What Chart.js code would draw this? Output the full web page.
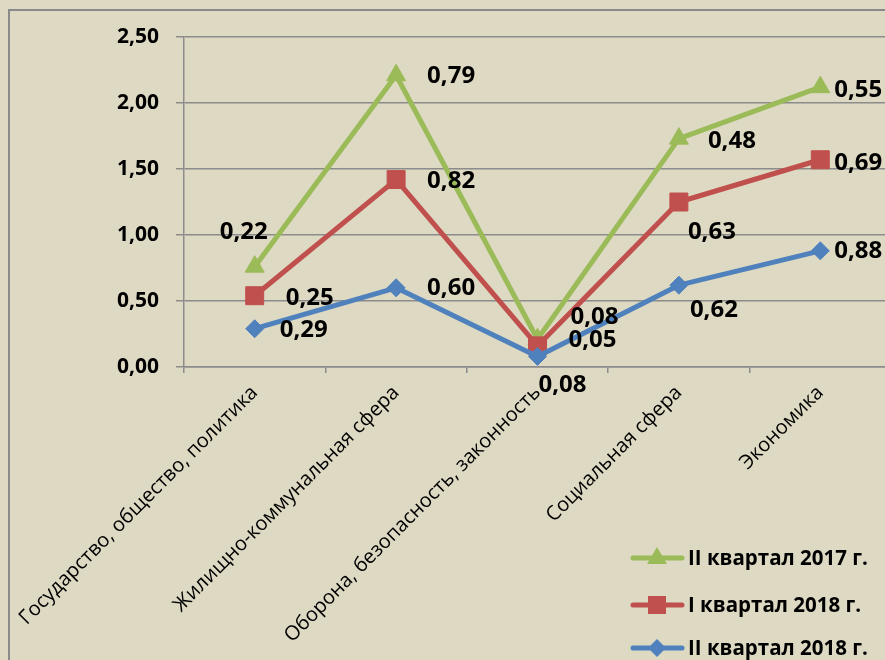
<!DOCTYPE html>
<html>
<head>
<meta charset="utf-8">
<script src="https://cdn.jsdelivr.net/npm/chart.js@4"></script>
<style>
  html, body { margin: 0; padding: 0; background: #DDD9C3; overflow: hidden; }
  #wrap { position: relative; width: 915px; height: 660px; }
  #frame { position: absolute; left: 8px; top: 9px; width: 1000px; height: 1000px; border: 2px solid #8a8a8a; box-sizing: border-box; }
  canvas { position: absolute; left: 0; top: 0; }
</style>
</head>
<body>
<div id="wrap">
  <div id="frame"></div>
  <canvas id="chart" width="915" height="660"></canvas>
</div>
<script>
// categories and values (stacked line chart, labels show each series' own value)
const categories = [
  "Государство, общество, политика",
  "Жилищно-коммунальная сфера",
  "Оборона, безопасность, законность",
  "Социальная сфера",
  "Экономика"
];
const q2_2018 = [0.29, 0.60, 0.08, 0.62, 0.88];
const q1_2018 = [0.25, 0.82, 0.08, 0.63, 0.69];
const q2_2017 = [0.22, 0.79, 0.05, 0.48, 0.55];

const seriesNames = ["II квартал 2018 г.", "I квартал 2018 г.", "II квартал 2017 г."];

// where each value label sits relative to its point (hand placed, like in the original)
const blueLabelPos = [[49, 1], [55, 0], [25, 29], [35, 25], [38, 0]];
const redLabelPos = [[55, 2], [55, 2], [57, -29], [33, 30], [38, 3]];
const greenLabelPos = [[-11, -35], [55, 1], [55, 1], [53, 3], [38, 3]];

const fmt = v => v.toFixed(2).replace('.', ',');

function marker(ctx, style, x, y, color) {
  ctx.save();
  ctx.fillStyle = color;
  ctx.beginPath();
  if (style === 'triangle') {
    ctx.moveTo(x, y - 11);
    ctx.lineTo(x + 10, y + 6);
    ctx.lineTo(x - 10, y + 6);
  } else if (style === 'rect') {
    ctx.rect(x - 9, y - 9, 18, 18);
  } else {
    ctx.moveTo(x, y - 9);
    ctx.lineTo(x + 9, y);
    ctx.lineTo(x, y + 9);
    ctx.lineTo(x - 9, y);
  }
  ctx.closePath();
  ctx.fill();
  ctx.restore();
}

const valueLabels = {
  id: 'valueLabels',
  afterDatasetsDraw(chart) {
    const ctx = chart.ctx;
    ctx.save();
    ctx.font = "bold 24px 'Open Sans'";
    ctx.fillStyle = '#000';
    ctx.textAlign = 'center';
    ctx.textBaseline = 'middle';
    chart.data.datasets.forEach((ds, i) => {
      chart.getDatasetMeta(i).data.forEach((pt, j) => {
        const off = ds.labelPos[j];
        ctx.fillText(fmt(ds.data[j]), pt.x + off[0], pt.y + off[1]);
      });
    });
    ctx.restore();
  }
};

const sideLegend = {
  id: 'sideLegend',
  afterDraw(chart) {
    const ctx = chart.ctx;
    const rows = [2, 1, 0];
    const ys = [558, 605, 648];
    ctx.save();
    ctx.font = "bold 20.5px 'Open Sans'";
    ctx.textBaseline = 'middle';
    ctx.textAlign = 'left';
    rows.forEach((di, k) => {
      const ds = chart.data.datasets[di];
      const y = ys[k];
      ctx.strokeStyle = ds.borderColor;
      ctx.lineWidth = 5;
      ctx.lineCap = 'round';
      ctx.beginPath();
      ctx.moveTo(633, y);
      ctx.lineTo(682, y);
      ctx.stroke();
      marker(ctx, ds.pointStyle, 657, y, ds.borderColor);
      ctx.fillStyle = '#000';
      ctx.fillText(ds.label, 688, y + 1);
    });
    ctx.restore();
  }
};

new Chart(document.getElementById('chart'), {
  type: 'line',
  data: {
    labels: categories,
    datasets: [
      {
        label: seriesNames[0], data: q2_2018, labelPos: blueLabelPos,
        borderColor: '#4F81BD', backgroundColor: '#4F81BD',
        pointStyle: 'rectRot', pointRadius: 9, pointHoverRadius: 9
      },
      {
        label: seriesNames[1], data: q1_2018, labelPos: redLabelPos,
        borderColor: '#C0504D', backgroundColor: '#C0504D',
        pointStyle: 'rect', pointRadius: 12.7, pointHoverRadius: 12.7
      },
      {
        label: seriesNames[2], data: q2_2017, labelPos: greenLabelPos,
        borderColor: '#9BBB59', backgroundColor: '#9BBB59',
        pointStyle: 'triangle', pointRadius: 11, pointHoverRadius: 11
      }
    ]
  },
  options: {
    responsive: false,
    animation: false,
    clip: false,
    elements: {
      line: { borderWidth: 5, tension: 0, fill: false, borderJoinStyle: 'round' },
      point: { borderWidth: 1 }
    },
    layout: { padding: { top: 37, right: 24, left: 0, bottom: 0 } },
    plugins: {
      legend: { display: false },
      tooltip: { enabled: false }
    },
    scales: {
      x: {
        offset: true,
        grid: { offset: true, drawOnChartArea: false, color: '#8c8c8c', tickLength: 6, lineWidth: 1.5 },
        border: { color: '#8c8c8c', width: 1.5 },
        ticks: {
          minRotation: 45, maxRotation: 45, color: '#000', padding: 8,
          font: { family: 'Open Sans', size: 20 }
        },
        afterFit(scale) {
          scale.height = 293;
          scale.paddingLeft = 0;
          scale.paddingRight = 0;
        }
      },
      y: {
        stacked: true,
        min: 0,
        max: 2.5,
        grid: { color: '#8c8c8c', lineWidth: 1.5, tickLength: 8 },
        border: { color: '#8c8c8c', width: 1.5 },
        ticks: {
          stepSize: 0.5, color: '#000', padding: 17,
          font: { family: 'Open Sans', weight: 'bold', size: 21 },
          callback: v => fmt(v)
        },
        afterFit(scale) { scale.width = 184; }
      }
    }
  },
  plugins: [valueLabels, sideLegend]
});
</script>
</body>
</html>
